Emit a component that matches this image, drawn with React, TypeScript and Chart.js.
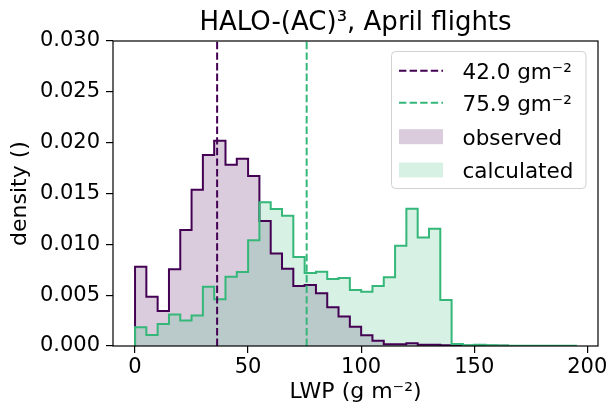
import { useEffect, useRef } from "react";
import { Chart, registerables } from "chart.js";

Chart.register(...registerables);

// ---------- data ----------
const BIN_WIDTH = 5;
const binStarts = [
  0, 5, 10, 15, 20, 25, 30, 35, 40, 45, 50, 55, 60, 65, 70, 75, 80, 85, 90, 95,
  100, 105, 110, 115, 120, 125, 130, 135, 140, 145, 150, 155, 160, 165, 170, 175, 180, 185, 190,
];
const observed = [
  0.0078, 0.00485, 0.00344, 0.00754, 0.0114, 0.01538, 0.01879, 0.0202, 0.01784, 0.01843,
  0.01672, 0.0123, 0.0091, 0.0076, 0.0059, 0.006, 0.0052, 0.0038, 0.0029, 0.0019,
  0.00105, 0.00052, 0.00016, 0.00016, 0.00026, 0.00013, 0.00012, 0.00007, 0.00005, 0.00003,
  0.00003, 0.00002, 0.00002, 0.00001, 0, 0, 0, 0, 0,
];
const calculated = [
  0.00184, 0.00108, 0.00216, 0.0031, 0.0025, 0.003, 0.00584, 0.0046, 0.00682, 0.00728,
  0.0104, 0.01413, 0.01348, 0.01282, 0.00876, 0.00718, 0.0073, 0.00658, 0.00668, 0.00552,
  0.00534, 0.0059, 0.00677, 0.00986, 0.0135, 0.01068, 0.01154, 0.00452, 0.0002, 0.00007,
  0.00013, 0.00007, 0.00005, 0.00003, 0.00002, 0.00002, 0.00002, 0.00002, 0.00002,
];
const meanLinePositions = [36.3, 75.9];
const meanLineLabels = ["42.0 gm\u207B\u00B2", "75.9 gm\u207B\u00B2"];
const seriesLabels = ["observed", "calculated"];
const xTicks = [0, 50, 100, 150, 200];
const yTicks = [0, 0.005, 0.01, 0.015, 0.02, 0.025, 0.03];
const TITLE = "HALO-(AC)\u00B3, April flights";
const X_LABEL = "LWP (g m\u207B\u00B2)";
const Y_LABEL = "density ()";

// ---------- styles ----------
const PURPLE = "#440154";
const GREEN = "#35b779";
const PURPLE_FILL = "rgba(68,1,84,0.2)";
const GREEN_FILL = "rgba(53,183,121,0.2)";
const FONT = "DejaVu Sans";
const TICK_SIZE = 21;
const LABEL_SIZE = 22;
const LEGEND_SIZE = 21.5;
const TITLE_SIZE = 26;

function stepPoints(vals: number[]) {
  const pts: { x: number; y: number }[] = [{ x: binStarts[0], y: 0 }];
  vals.forEach((v, i) => pts.push({ x: binStarts[i], y: v }));
  pts.push({ x: binStarts[binStarts.length - 1] + BIN_WIDTH, y: 0 });
  return pts;
}

const framePlugin = {
  id: "frame",
  afterDatasetsDraw(chart: any) {
    const { ctx, chartArea: a } = chart;
    ctx.save();
    ctx.strokeStyle = "#000";
    ctx.lineWidth = 1.2;
    ctx.strokeRect(a.left, a.top, a.right - a.left, a.bottom - a.top);
    ctx.restore();
  },
  afterDraw(chart: any) {
    const { ctx, chartArea: a } = chart;
    ctx.save();
    // title
    ctx.fillStyle = "#000";
    ctx.font = `${TITLE_SIZE}px "${FONT}"`;
    ctx.textAlign = "center";
    ctx.textBaseline = "alphabetic";
    ctx.fillText(TITLE, (a.left + a.right) / 2, a.top - 11);

    // legend
    const bx = a.right - 206.5;
    const by = a.top + 10.5;
    const bw = 194.5;
    const bh = 137;
    const r = 4;
    ctx.beginPath();
    ctx.moveTo(bx + r, by);
    ctx.lineTo(bx + bw - r, by);
    ctx.arcTo(bx + bw, by, bx + bw, by + r, r);
    ctx.lineTo(bx + bw, by + bh - r);
    ctx.arcTo(bx + bw, by + bh, bx + bw - r, by + bh, r);
    ctx.lineTo(bx + r, by + bh);
    ctx.arcTo(bx, by + bh, bx, by + bh - r, r);
    ctx.lineTo(bx, by + r);
    ctx.arcTo(bx, by, bx + r, by, r);
    ctx.closePath();
    ctx.fillStyle = "rgba(255,255,255,0.8)";
    ctx.fill();
    ctx.strokeStyle = "#d0d0d0";
    ctx.lineWidth = 1;
    ctx.stroke();

    const hx0 = bx + 7.5;
    const hx1 = bx + 51.5;
    const tx = bx + 71;
    const rows = [by + 19.2, by + 51.2, by + 85.2, by + 118.5];
    const lineColors = [PURPLE, GREEN];
    const fills = [PURPLE_FILL, GREEN_FILL];
    ctx.font = `${LEGEND_SIZE}px "${FONT}"`;
    ctx.textAlign = "left";
    ctx.textBaseline = "alphabetic";
    for (let i = 0; i < 2; i++) {
      ctx.beginPath();
      ctx.setLineDash([7.4, 3.2]);
      ctx.strokeStyle = lineColors[i];
      ctx.lineWidth = 2;
      ctx.moveTo(hx0, rows[i]);
      ctx.lineTo(hx1, rows[i]);
      ctx.stroke();
      ctx.setLineDash([]);
      ctx.fillStyle = "#000";
      ctx.fillText(meanLineLabels[i], tx, rows[i] + 8);
    }
    for (let i = 0; i < 2; i++) {
      const cy = rows[i + 2];
      ctx.fillStyle = fills[i];
      ctx.fillRect(hx0, cy - 7.5, hx1 - hx0, 15);
      ctx.fillStyle = "#000";
      ctx.fillText(seriesLabels[i], tx, cy + 8);
    }
    ctx.restore();
  },
};

export default function App() {
  const ref = useRef<HTMLCanvasElement | null>(null);
  useEffect(() => {
    document.body.style.margin = "0";
    Chart.defaults.font.family = FONT;
    Chart.defaults.font.size = TICK_SIZE;
    Chart.defaults.color = "#000";
    const canvas = ref.current;
    if (!canvas) return;
    const stepBase = {
      type: "line" as const,
      stepped: true,
      pointRadius: 0,
      tension: 0,
    };
    const chart = new Chart(canvas, {
      type: "line",
      data: {
        datasets: [
          { ...stepBase, label: seriesLabels[0] + " fill", data: stepPoints(observed), borderWidth: 0, borderColor: "rgba(0,0,0,0)", backgroundColor: PURPLE_FILL, fill: "origin", order: 6 },
          { ...stepBase, label: seriesLabels[1] + " fill", data: stepPoints(calculated), borderWidth: 0, borderColor: "rgba(0,0,0,0)", backgroundColor: GREEN_FILL, fill: "origin", order: 5 },
          { ...stepBase, label: seriesLabels[0], data: stepPoints(observed), borderWidth: 2, borderColor: PURPLE, fill: false, order: 4 },
          { ...stepBase, label: seriesLabels[1], data: stepPoints(calculated), borderWidth: 2, borderColor: GREEN, fill: false, order: 3 },
          { type: "line", label: meanLineLabels[0], data: [{ x: meanLinePositions[0], y: 0 }, { x: meanLinePositions[0], y: 0.03 }], borderColor: PURPLE, borderWidth: 2, borderDash: [7.4, 3.2], pointRadius: 0, fill: false, order: 2 },
          { type: "line", label: meanLineLabels[1], data: [{ x: meanLinePositions[1], y: 0 }, { x: meanLinePositions[1], y: 0.03 }], borderColor: GREEN, borderWidth: 2, borderDash: [7.4, 3.2], pointRadius: 0, fill: false, order: 1 },
        ] as any,
      },
      options: {
        animation: false,
        responsive: false,
        devicePixelRatio: 1,
        events: [],
        layout: { padding: { top: 41, right: 10, left: 0, bottom: 0 } },
        plugins: {
          legend: { display: false },
          title: { display: false },
          tooltip: { enabled: false },
        },
        scales: {
          x: {
            type: "linear",
            min: -9.75,
            max: 204.75,
            afterBuildTicks: (s: any) => {
              s.ticks = xTicks.map((v) => ({ value: v }));
            },
            afterFit: (s: any) => {
              s.height = 59;
              s.paddingLeft = 0;
              s.paddingRight = 0;
            },
            ticks: {
              color: "#000",
              font: { family: FONT, size: TICK_SIZE },
              padding: 2,
              maxRotation: 0,
              autoSkip: false,
              callback: (v: any) => String(v),
            },
            grid: { display: true, drawOnChartArea: false, drawTicks: true, tickLength: 7, color: "#000", lineWidth: 1.2 },
            border: { display: false },
            title: { display: true, text: X_LABEL, color: "#000", font: { family: FONT, size: LABEL_SIZE }, padding: { top: 0, bottom: 0 } },
          },
          y: {
            type: "linear",
            min: 0,
            max: 0.03,
            afterBuildTicks: (s: any) => {
              s.ticks = yTicks.map((v) => ({ value: v }));
            },
            afterFit: (s: any) => {
              s.width = 113;
              s.paddingTop = 0;
              s.paddingBottom = 0;
            },
            ticks: {
              color: "#000",
              font: { family: FONT, size: TICK_SIZE },
              padding: 6,
              autoSkip: false,
              callback: (v: any) => Number(v).toFixed(3),
            },
            grid: { display: true, drawOnChartArea: false, drawTicks: true, tickLength: 7, color: "#000", lineWidth: 1.2 },
            border: { display: false },
            title: { display: true, text: Y_LABEL, color: "#000", font: { family: FONT, size: LABEL_SIZE }, padding: { top: 7, bottom: 0 } },
          },
        },
      } as any,
      plugins: [framePlugin],
    });
    return () => chart.destroy();
  }, []);
  return <canvas ref={ref} width={608} height={405} style={{ display: "block" }} />;
}
